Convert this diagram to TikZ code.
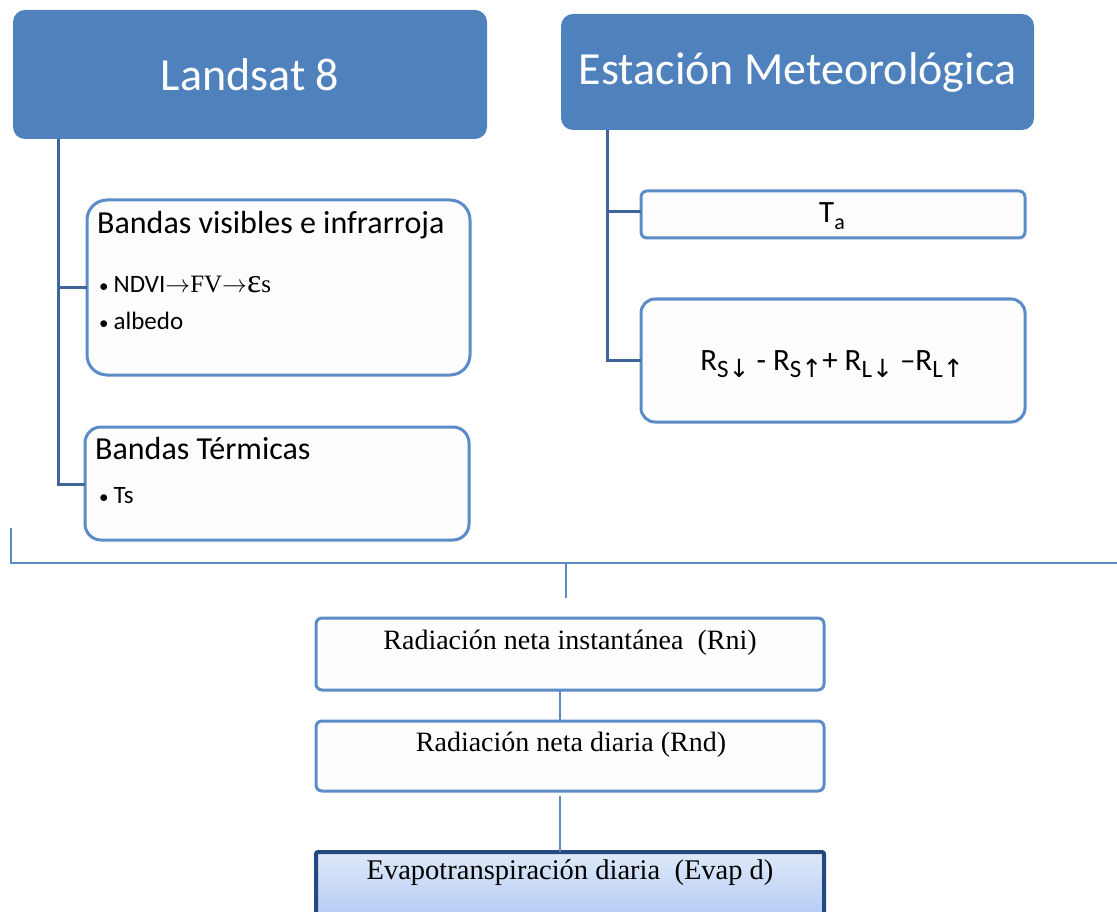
\documentclass[tikz,border=0pt]{standalone}
\usepackage{fontspec}
\setmainfont{Carlito}
\newfontfamily\serifrm{Liberation Serif}
\newfontfamily\djv{DejaVu Sans}
\newcommand\fsz[1]{\fontsize{#1}{#1}\selectfont}
\definecolor{hdr}{HTML}{4F81BD}
\definecolor{cardln}{HTML}{5B8CC8}
\definecolor{connd}{HTML}{3F659B}
\definecolor{connl}{HTML}{5B8BC8}
\definecolor{evln}{HTML}{24497E}
\definecolor{evtop}{HTML}{DFE9F9}
\definecolor{evbot}{HTML}{9FBEF2}
\definecolor{cardfill}{HTML}{FDFDFD}
\tikzset{
  header/.style={fill=hdr, draw=none, rounded corners=12pt, text=white,
    font=\fsz{46}, inner sep=0pt, outer sep=0pt},
  card/.style={draw=cardln, fill=cardfill, line width=3pt, inner sep=0pt, outer sep=0pt},
  sercard/.style={card, rounded corners=6pt},
  evcard/.style={draw=evln, line width=4pt, top color=evtop, bottom color=evbot,
    rounded corners=2pt, inner sep=0pt, outer sep=0pt},
  conn/.style={draw=connd, line width=3pt},
  thin/.style={draw=connl, line width=2pt},
  title/.style={font=\fsz{32}, inner sep=0pt, anchor=base west},
  bullet/.style={font=\fsz{25}, inner sep=0pt, anchor=base west},
  sertxt/.style={font=\serifrm\fsz{28}, inner sep=0pt, anchor=base},
}
\newcommand\sub[1]{\raisebox{-7pt}{\fsz{25}#1}}
\begin{document}
\begin{tikzpicture}[x=1pt,y=-1pt]
\useasboundingbox (0,0) rectangle (1117,912);
% headers
\node[header, minimum width=474pt, minimum height=129pt] (lan) at (250,74.5) {Landsat 8};
\node[header, minimum width=473pt, minimum height=116pt] (est) at (797.5,72) {Estación Meteorológica};
% cards left
\node[card, rounded corners=20pt, minimum width=383pt, minimum height=175pt] (bvis) at (278.5,287.5) {};
\node[card, rounded corners=16pt, minimum width=384pt, minimum height=113pt] (bter) at (277,483.5) {};
% cards right
\node[card, rounded corners=6pt, minimum width=384pt, minimum height=47pt] (ta) at (833,214.5) {};
\node[card, rounded corners=14pt, minimum width=384pt, minimum height=123pt] (rbox) at (833,360.5) {};
% bottom boxes
\node[sercard, minimum width=508pt, minimum height=72pt] (rni) at (570,654) {};
\node[sercard, minimum width=508pt, minimum height=70pt] (rnd) at (570,756) {};
\node[evcard, minimum width=508pt, minimum height=96pt] (evap) at (570,900) {};
% texts
\node[title] (t1) at (97,234) {Bandas visibles e infrarroja};
\node[bullet] (t2) at (99,292) {{\fsz{19}•}\hspace{5pt}NDVI{\serifrm $\rightarrow$FV$\rightarrow$}{\serifrm\fsz{34}ε}{\serifrm s}};
\node[bullet] (t3) at (99,330) {{\fsz{19}•}\hspace{5pt}albedo};
\node[title] (t4) at (95,459) {Bandas Térmicas};
\node[bullet] (t5) at (99,503) {{\fsz{19}•}\hspace{5pt}Ts};
\node[font=\fsz{31}, inner sep=0pt, anchor=base] (t6) at (832,223) {T\raisebox{-7pt}{\fsz{22}a}};
\node[font=\fsz{31}, inner sep=0pt, anchor=base] (t7) at (832,370)
  {R\sub{S{\djv ↓}} - R\sub{S{\djv ↑}}+ R\sub{L{\djv ↓}} –R\sub{L{\djv ↑}}};
\node[sertxt] (t8) at (570,649) {Radiación neta instantánea \ (Rni)};
\node[sertxt] (t9) at (571,751) {Radiación neta diaria (Rnd)};
\node[sertxt, font=\serifrm\fsz{28.5}] (t10) at (570,879) {Evapotranspiración diaria \ (Evap d)};
% left connectors
\coordinate (lj) at (58,484);
\draw[conn] (lan.south -| lj) -- (lj) -- (lj -| bter.west);
\coordinate (lj2) at (58,288);
\draw[conn] (lj2) -- (lj2 -| bvis.west);
% right connectors
\coordinate (rj) at (607,360);
\draw[conn] (est.south -| rj) -- (rj) -- (rj -| rbox.west);
\coordinate (rj2) at (607,212);
\draw[conn] (rj2) -- (rj2 -| ta.west);
% bottom bracket
\coordinate (b1) at (11,528);
\coordinate (b2) at (11,563);
\coordinate (b3) at (1117,563);
\coordinate (b4) at (566,563);
\coordinate (b5) at (566,598);
\draw[thin] (b1) -- (b2) -- (b3);
\draw[thin] (b4) -- (b5);
% lower connectors
\draw[connl, line width=1.5pt] (rni.south -| 560,0) -- (rnd.north -| 560,0);
\draw[connl, line width=1.5pt] (rnd.south -| 560,0) ++(0,5) -- (evap.north -| 560,0);
\end{tikzpicture}
\end{document}
